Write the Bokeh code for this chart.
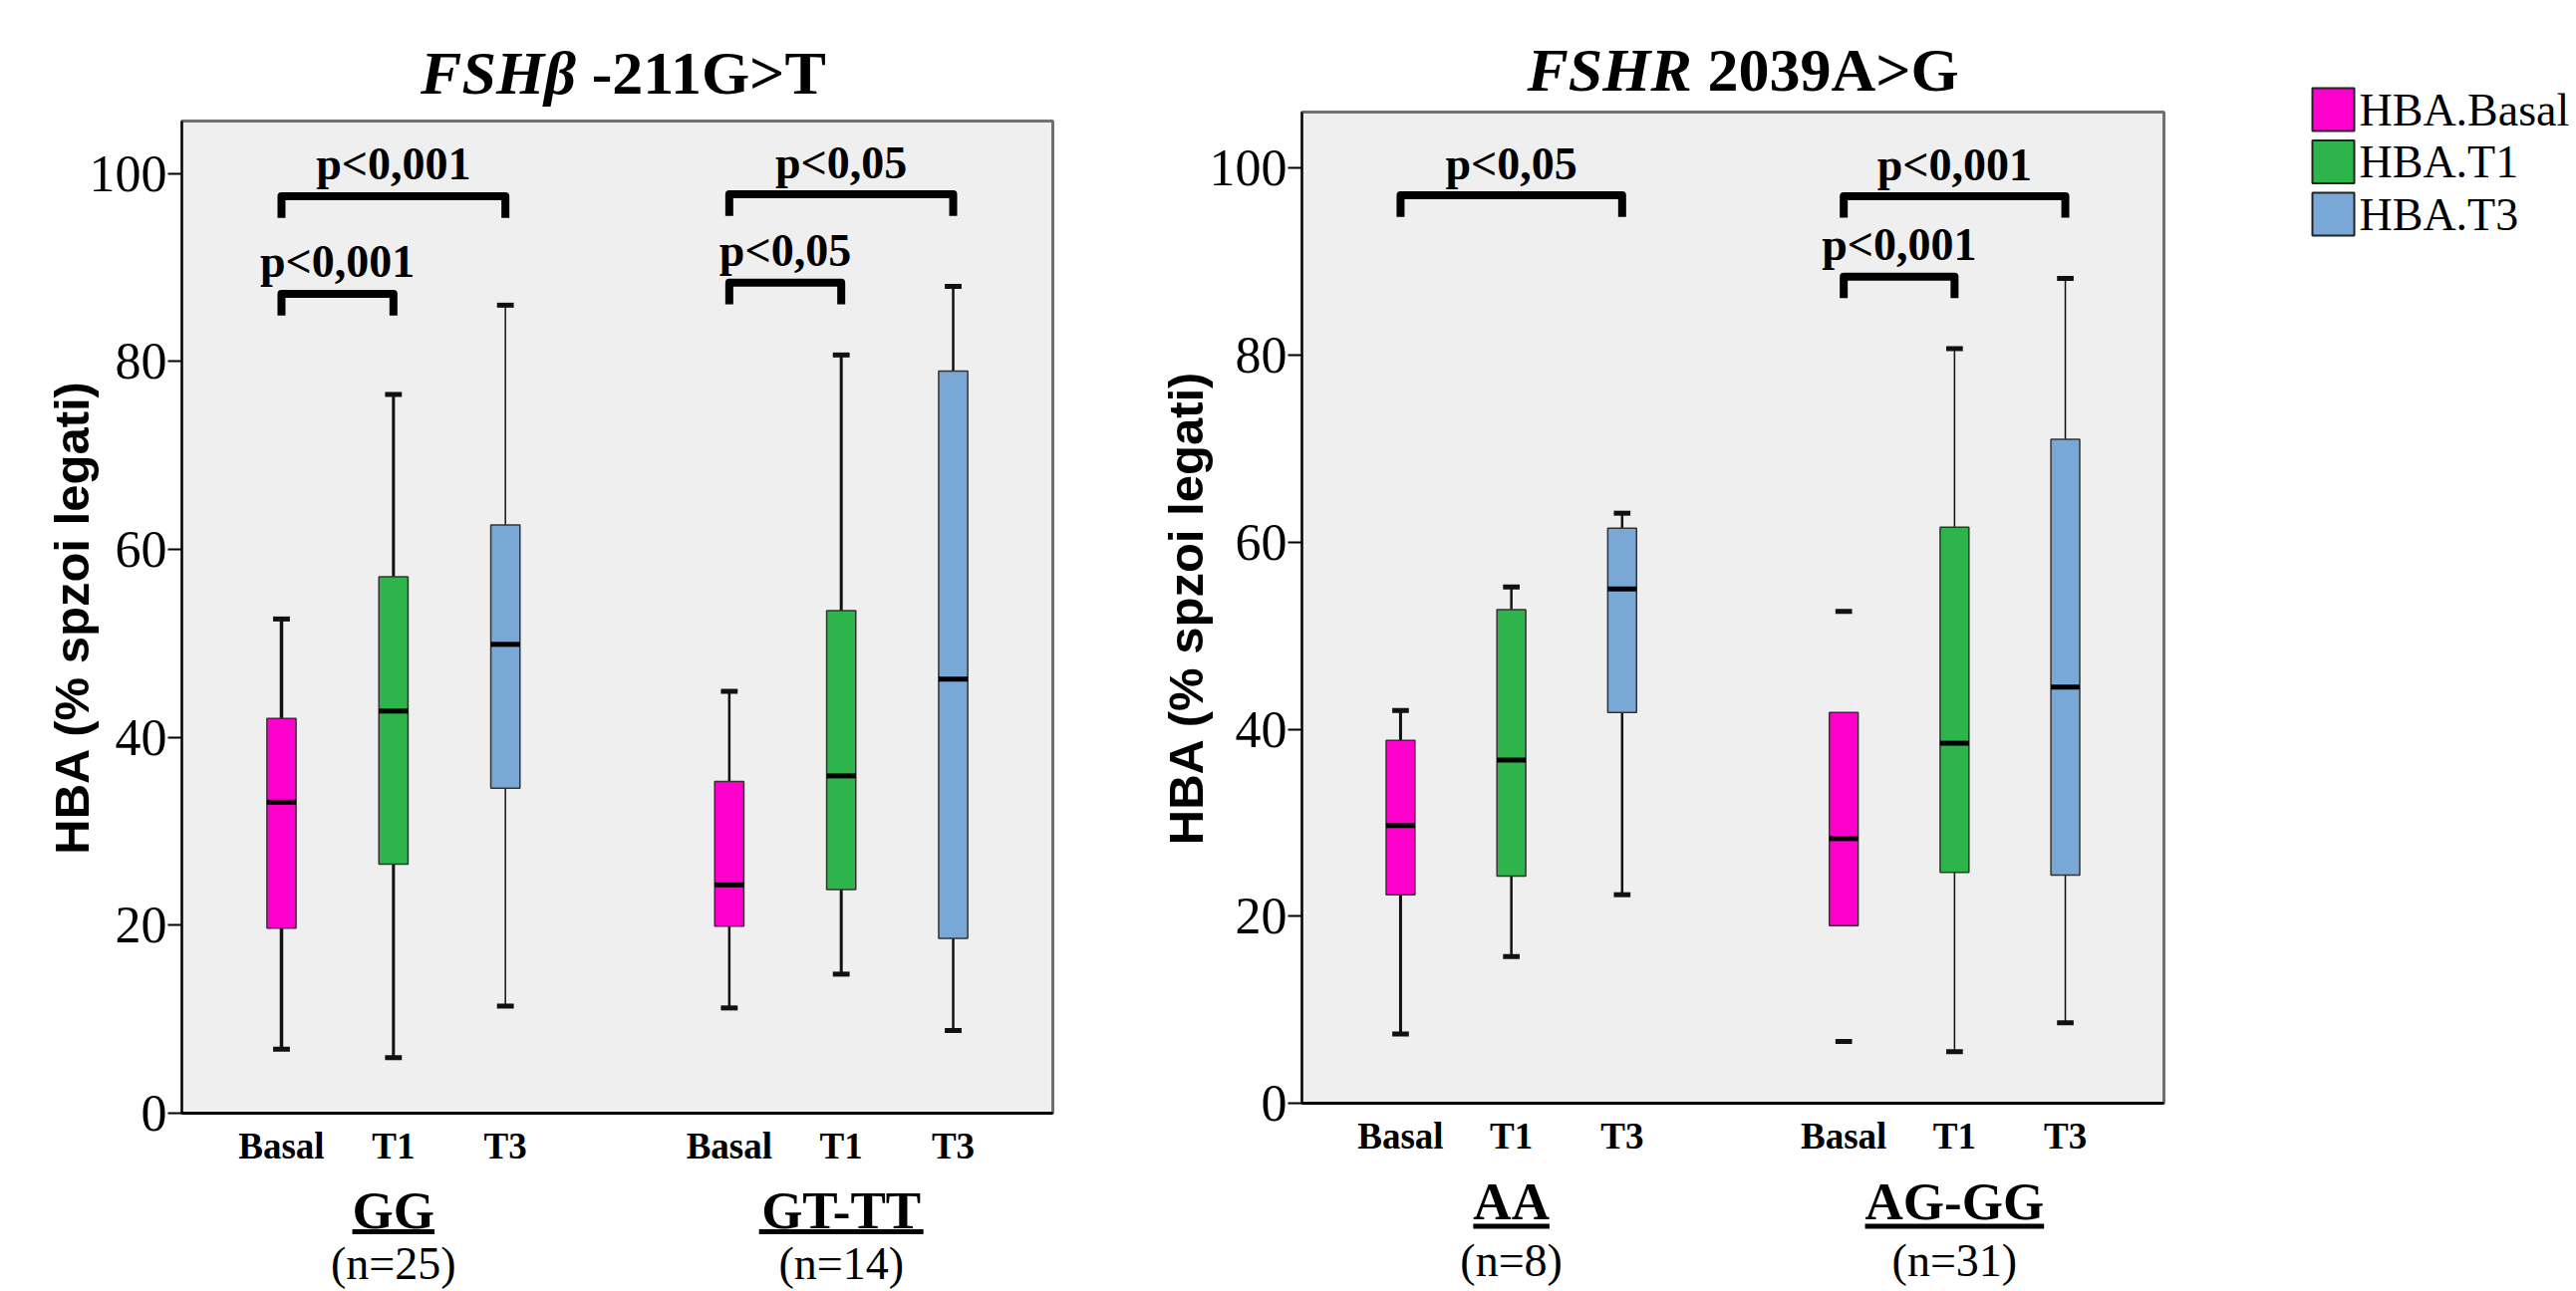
from bokeh.plotting import figure
from bokeh.models import Range1d, FixedTicker
from bokeh.layouts import row, column
from bokeh.core.properties import value
from bokeh.embed import file_html
from bokeh.resources import INLINE

# ---------------- data ----------------
series = ["Basal", "T1", "T3"]
legend_labels = ["HBA.Basal", "HBA.T1", "HBA.T3"]
series_colors = ["#FF00CC", "#2DB44A", "#7AA8D6"]
y_ticks = [0, 20, 40, 60, 80, 100]
y_label = "HBA (% spzoi legati)"

# Panel 1: FSHbeta -211G>T
fshb_title = ["FSHβ", "-211G>T"]
fshb_groups = ["GG", "GT-TT"]
fshb_n = ["(n=25)", "(n=14)"]
fshb_lower = [[6.8, 5.9, 11.4], [11.2, 14.8, 8.8]]
fshb_q1 = [[19.7, 26.5, 34.6], [19.9, 23.8, 18.6]]
fshb_median = [[33.1, 42.8, 49.9], [24.3, 35.9, 46.2]]
fshb_q3 = [[42.0, 57.1, 62.6], [35.3, 53.5, 79.0]]
fshb_upper = [[52.6, 76.5, 86.0], [44.9, 80.7, 88.0]]
# (group, series a, series b, bracket height, label)
fshb_pvalues = [(0, 0, 1, 87.2, "p<0,001"), (0, 0, 2, 97.6, "p<0,001"),
                (1, 0, 1, 88.4, "p<0,05"), (1, 0, 2, 97.8, "p<0,05")]

# Panel 2: FSHR 2039A>G
fshr_title = ["FSHR", "2039A>G"]
fshr_groups = ["AA", "AG-GG"]
fshr_n = ["(n=8)", "(n=31)"]
fshr_lower = [[7.4, 15.7, 22.3], [6.6, 5.5, 8.6]]
fshr_q1 = [[22.3, 24.3, 41.8], [19.0, 24.7, 24.4]]
fshr_median = [[29.7, 36.7, 55.0], [28.3, 38.5, 44.5]]
fshr_q3 = [[38.8, 52.8, 61.5], [41.8, 61.6, 71.0]]
fshr_upper = [[42.0, 55.2, 63.1], [52.6, 80.7, 88.2]]
fshr_pvalues = [(0, 0, 2, 97.1, "p<0,05"), (1, 0, 2, 97.0, "p<0,001"),
                (1, 0, 1, 88.4, "p<0,001")]

# ---------------- styles ----------------
SERIF = value("Liberation Serif")
fshb_stem_w = [[3.5, 3, 1.5], [2.5, 3, 2.5]]
fshr_stem_w = [[3, 2.5, 2.5], [0, 1.5, 1.5]]
BOX_W = 0.26
CAP_HALF = 0.075
X_RANGE = (-0.89, 6.89)
TIMES_BOLD = {"G": 778, "T": 667, "-": 333, "A": 722}


def text_px(s, size):
    return sum(TIMES_BOLD.get(c, 600) for c in s) / 1000.0 * size


def bare(width, height, xr, bl, br):
    if xr is None:
        xr = Range1d(0, width)
    f = figure(width=width, height=height, x_range=xr, y_range=Range1d(0, height),
               min_border=0, min_border_left=bl, min_border_right=br,
               x_axis_location=None, y_axis_location=None,
               toolbar_location=None, output_backend="svg",
               outline_line_color=None)
    f.grid.visible = False
    return f


def panel(width, bl, br, title_h, title_mid, top_gap, ytop, frame_h, bottom_h, mid_grp, ul,
          mid_n, title, groups, nlab, lower, q1, med, q3, upper, pvals, stem_w,
          label_standoff):
    xr = Range1d(*X_RANGE)
    unit_px = (width - bl - br) / (X_RANGE[1] - X_RANGE[0])

    # title (mixed italic / upright)
    t = bare(width, title_h, xr, bl, br)
    t.text(x=[2.63], y=[title_mid], text=[title[0]], text_font=SERIF,
           text_font_style="bold italic", text_font_size=value("62px"),
           text_align="right", text_baseline="middle", text_color="black")
    t.text(x=[2.77], y=[title_mid], text=[title[1]], text_font=SERIF,
           text_font_style="bold", text_font_size=value("62px"),
           text_align="left", text_baseline="middle", text_color="black")

    p = figure(width=width, height=top_gap + frame_h + 70, x_range=xr,
               y_range=Range1d(0, ytop),
               min_border=0, min_border_left=bl, min_border_right=br,
               min_border_top=top_gap, min_border_bottom=70,
               toolbar_location=None, output_backend="svg",
               background_fill_color="#EFEFEF", border_fill_color="white",
               outline_line_color="#707070", outline_line_width=3)
    p.grid.visible = False

    # y axis
    ya = p.yaxis[0]
    ya.ticker = FixedTicker(ticks=y_ticks)
    ya.axis_label = y_label
    ya.axis_label_text_font = "Liberation Sans"
    ya.axis_label_text_font_style = "bold"
    ya.axis_label_text_font_size = "49px"
    ya.axis_label_text_color = "black"
    ya.axis_label_standoff = label_standoff
    ya.major_label_text_font = "Liberation Serif"
    ya.major_label_text_font_size = "52px"
    ya.major_label_text_color = "black"
    ya.major_label_standoff = 1
    ya.major_tick_out = 14
    ya.major_tick_in = 0
    ya.major_tick_line_width = 2
    ya.major_tick_line_color = "black"
    ya.minor_tick_line_color = None
    ya.axis_line_color = "black"
    ya.axis_line_width = 2

    # x axis
    positions = [g * 4 + s for g in range(len(groups)) for s in range(len(series))]
    xa = p.xaxis[0]
    xa.ticker = FixedTicker(ticks=positions)
    xa.major_label_overrides = {pos: series[i % 3] for i, pos in enumerate(positions)}
    xa.major_label_text_font = "Liberation Serif"
    xa.major_label_text_font_style = "bold"
    xa.major_label_text_font_size = "37px"
    xa.major_label_text_color = "black"
    xa.major_label_standoff = 12
    xa.major_tick_line_color = None
    xa.major_tick_out = 0
    xa.minor_tick_line_color = None
    xa.axis_line_color = "black"
    xa.axis_line_width = 3

    for s in range(len(series)):
        xs = [g * 4 + s for g in range(len(groups))]
        lo = [lower[g][s] for g in range(len(groups))]
        a = [q1[g][s] for g in range(len(groups))]
        m = [med[g][s] for g in range(len(groups))]
        b = [q3[g][s] for g in range(len(groups))]
        hi = [upper[g][s] for g in range(len(groups))]
        sw = [stem_w[g][s] for g in range(len(groups))]
        # whisker stems
        p.segment(x0=xs, x1=xs, y0=b, y1=hi, line_color="#111111", line_width=sw)
        p.segment(x0=xs, x1=xs, y0=a, y1=lo, line_color="#111111", line_width=sw)
        # caps
        p.segment(x0=[x - CAP_HALF for x in xs], x1=[x + CAP_HALF for x in xs],
                  y0=hi, y1=hi, line_color="#111111", line_width=5)
        p.segment(x0=[x - CAP_HALF for x in xs], x1=[x + CAP_HALF for x in xs],
                  y0=lo, y1=lo, line_color="#111111", line_width=5)
        # boxes
        p.vbar(x=xs, width=BOX_W, bottom=a, top=b, fill_color=series_colors[s],
               line_color="#333333", line_width=1.5)
        # medians
        p.segment(x0=[x - BOX_W / 2 for x in xs], x1=[x + BOX_W / 2 for x in xs],
                  y0=m, y1=m, line_color="black", line_width=5)

    # significance brackets
    bx, by, tx, ty, tt = [], [], [], [], []
    for g, sa, sb, h, lab in pvals:
        xa_ = g * 4 + sa
        xb_ = g * 4 + sb
        bx.append([xa_, xa_, xb_, xb_])
        by.append([h - 2.3, h, h, h - 2.3])
        tx.append((xa_ + xb_) / 2)
        ty.append(h + 3.4)
        tt.append(lab)
    p.multi_line(xs=bx, ys=by, line_color="black", line_width=8, line_join="round")
    p.text(x=tx, y=ty, text=tt, text_font=SERIF, text_font_style="bold",
           text_font_size=value("46px"), text_align="center",
           text_baseline="middle", text_color="black")

    # group labels below
    bt = bare(width, bottom_h, xr, bl, br)
    centers = [g * 4 + 1 for g in range(len(groups))]
    bt.text(x=centers, y=[mid_grp] * len(groups), text=groups, text_font=SERIF,
            text_font_style="bold", text_font_size=value("53px"), text_align="center",
            text_baseline="middle", text_color="black")
    hw = [text_px(gname, 53) / 2 / unit_px for gname in groups]
    bt.segment(x0=[c - h for c, h in zip(centers, hw)], x1=[c + h for c, h in zip(centers, hw)],
               y0=[ul] * len(groups), y1=[ul] * len(groups),
               line_color="black", line_width=5)
    bt.text(x=centers, y=[mid_n] * len(groups), text=nlab, text_font=SERIF,
            text_font_size=value("46px"), text_align="center",
            text_baseline="middle", text_color="black")

    return column(t, p, bt, spacing=0)


left = panel(1150, 182, 94, 110, 38, 11, 105.6, 996, 109, 81.5, 60, 28,
             fshb_title, fshb_groups, fshb_n, fshb_lower, fshb_q1, fshb_median,
             fshb_q3, fshb_upper, fshb_pvalues, fshb_stem_w, -12)
right = panel(1050, 156, 29, 110, 40.6, 2, 106.0, 995, 119, 91, 65.5, 31,
              fshr_title, fshr_groups, fshr_n, fshr_lower, fshr_q1, fshr_median,
              fshr_q3, fshr_upper, fshr_pvalues, fshr_stem_w, -6)

# legend panel (swatches + labels, one row per series)
LEG_W, LEG_H = 385, 300
leg = bare(LEG_W, LEG_H, None, 0, 0)
row_top = [LEG_H - 88 - 52.5 * i for i in range(len(legend_labels))]
leg.quad(left=[120] * 3, right=[162] * 3, top=row_top, bottom=[t_ - 43 for t_ in row_top],
         fill_color=series_colors, line_color="#222222", line_width=2)
leg.text(x=[167] * 3, y=[t_ - 21.5 for t_ in row_top], text=legend_labels, text_font=SERIF,
         text_font_size=value("46px"), text_align="left", text_baseline="middle",
         text_color="black")

layout = row(left, right, leg, spacing=0)
open("out.html", "w").write(file_html(layout, INLINE))
